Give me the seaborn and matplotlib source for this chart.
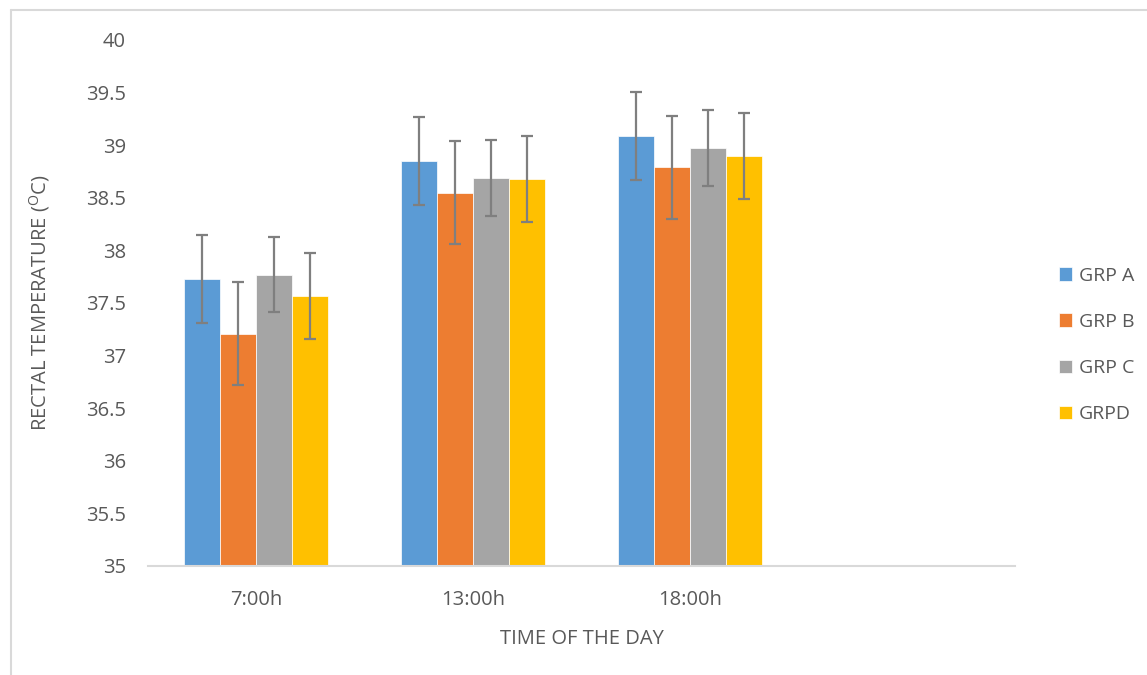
import numpy as np
import pandas as pd
import seaborn as sns
import matplotlib.pyplot as plt
from matplotlib.lines import Line2D

# values
times = ['7:00h', '13:00h', '18:00h']
groups = ['GRP A', 'GRP B', 'GRP C', 'GRPD']
grp_a = [37.73, 38.85, 39.09]
grp_b = [37.21, 38.55, 38.79]
grp_c = [37.77, 38.69, 38.97]
grp_d = [37.57, 38.68, 38.90]
err_a = [0.42, 0.42, 0.42]
err_b = [0.49, 0.49, 0.49]
err_c = [0.36, 0.36, 0.36]
err_d = [0.41, 0.41, 0.41]

colors = ['#5b9bd5', '#ed7d31', '#a5a5a5', '#ffc000']
txt = '#595959'

df = pd.DataFrame({
    'Time': times * 4,
    'Group': [g for g in groups for _ in times],
    'Temp': grp_a + grp_b + grp_c + grp_d,
    'Err': err_a + err_b + err_c + err_d,
})

sns.set_style('white')
plt.rcParams['font.family'] = ['Open Sans', 'DejaVu Sans']

fig = plt.figure(figsize=(11.47, 6.75), dpi=100)
ax = fig.add_axes([148 / 1147, 1 - 566 / 675, (1015 - 148) / 1147, (566 - 40) / 675])

sns.barplot(data=df, x='Time', y='Temp', hue='Group', order=times + [' '],
            hue_order=groups, palette=colors, width=0.665, errorbar=None,
            saturation=1, edgecolor='white', linewidth=0.5, ax=ax)

# error bars at the bar centres
for g, container in zip(groups, ax.containers):
    sub = df[df['Group'] == g].set_index('Time').loc[times]
    xs = [p.get_x() + p.get_width() / 2 for p in container.patches][:len(times)]
    ax.errorbar(xs, sub['Temp'], yerr=sub['Err'], fmt='none', ecolor='#7f7f7f',
                elinewidth=1.6, capsize=4.5, capthick=1.6, zorder=5)

ax.set_ylim(35, 40)
ax.set_xlim(-0.5, 3.5)
ax.set_yticks(np.arange(35, 40.01, 0.5))
ax.set_yticklabels([f'{v:g}' for v in np.arange(35, 40.01, 0.5)])
ax.tick_params(axis='both', length=0, labelsize=14.5, colors=txt)
ax.tick_params(axis='y', pad=16)
ax.tick_params(axis='x', pad=17)
for s in ['top', 'right', 'left']:
    ax.spines[s].set_visible(False)
ax.spines['bottom'].set_color('#d9d9d9')
ax.spines['bottom'].set_linewidth(1.5)

ax.set_xlabel('TIME OF THE DAY', fontsize=14.5, color=txt, labelpad=14)
ax.set_ylabel(r'RECTAL TEMPERATURE ($^{\mathregular{O}}$C)', fontsize=14.5, color=txt, labelpad=24)

ax.legend(loc='center left', bbox_to_anchor=(1.03, 0.42), frameon=False,
          fontsize=14, labelcolor=txt, handlelength=0.7, handleheight=0.7,
          handletextpad=0.35, labelspacing=1.45)

# light outer frame (only top and left edges visible)
fig.add_artist(Line2D([11 / 1147, 1], [1 - 10 / 675] * 2, color='#d9d9d9', lw=1.5,
                      transform=fig.transFigure))
fig.add_artist(Line2D([11 / 1147] * 2, [0, 1 - 10 / 675], color='#d9d9d9', lw=1.5,
                      transform=fig.transFigure))

fig.savefig('out.png', dpi=100)
